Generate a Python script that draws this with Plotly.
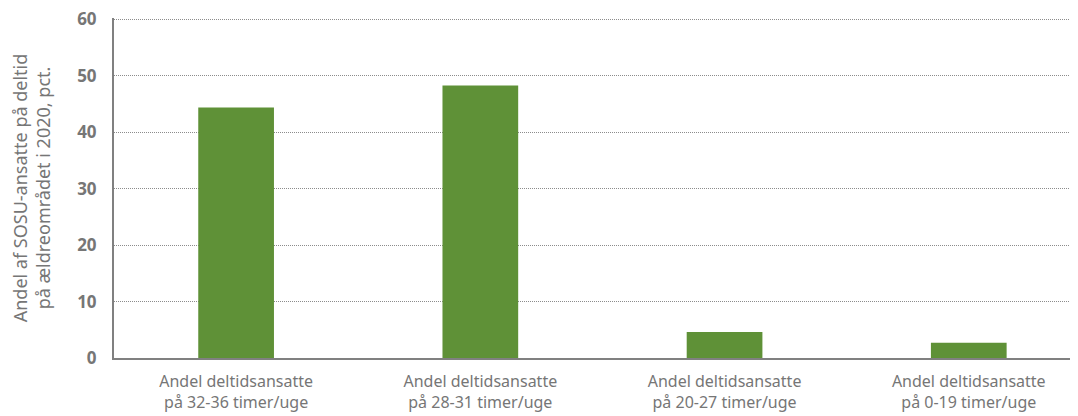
import plotly.graph_objects as go

categories = ["Andel deltidsansatte<br>på 32-36 timer/uge",
              "Andel deltidsansatte<br>på 28-31 timer/uge",
              "Andel deltidsansatte<br>på 20-27 timer/uge",
              "Andel deltidsansatte<br>på 0-19 timer/uge"]
values = [44.4, 48.3, 4.6, 2.7]
y_ticks = [0, 10, 20, 30, 40, 50, 60]

fig = go.Figure(go.Bar(x=categories, y=values, marker_color="#5f9137",
                       marker_line_width=0, width=0.31))

fig.update_layout(
    width=1078, height=416,
    margin=dict(l=106, r=0, t=10, b=66, autoexpand=False),
    paper_bgcolor="white", plot_bgcolor="white",
    showlegend=False,
    font=dict(family="Noto Sans", color="#767676", size=16),
)
fig.update_xaxes(range=[-0.5, 3.48], showline=True, linecolor="#808080", linewidth=2,
                 showgrid=False, ticks="", automargin=False, ticklabelstandoff=8,
                 tickfont=dict(size=16, color="#767676"))
fig.update_yaxes(range=[0, 60.25], tickvals=y_ticks, showline=True, linecolor="#808080",
                 linewidth=2, showgrid=True, gridcolor="#8c8c8c", griddash="1px,1px",
                 gridwidth=1, zeroline=False, ticks="", ticklen=0, automargin=False,
                 ticklabelstandoff=12, ticklabeloverflow="allow",
                 tickfont=dict(size=17, color="#767676", family="Open Sans", weight="bold"),
                 title=dict(text="Andel af SOSU-ansatte på deltid<br>på ældreområdet i 2020, pct.",
                            font=dict(size=18, color="#767676"), standoff=25))
fig.write_html("out.html")
